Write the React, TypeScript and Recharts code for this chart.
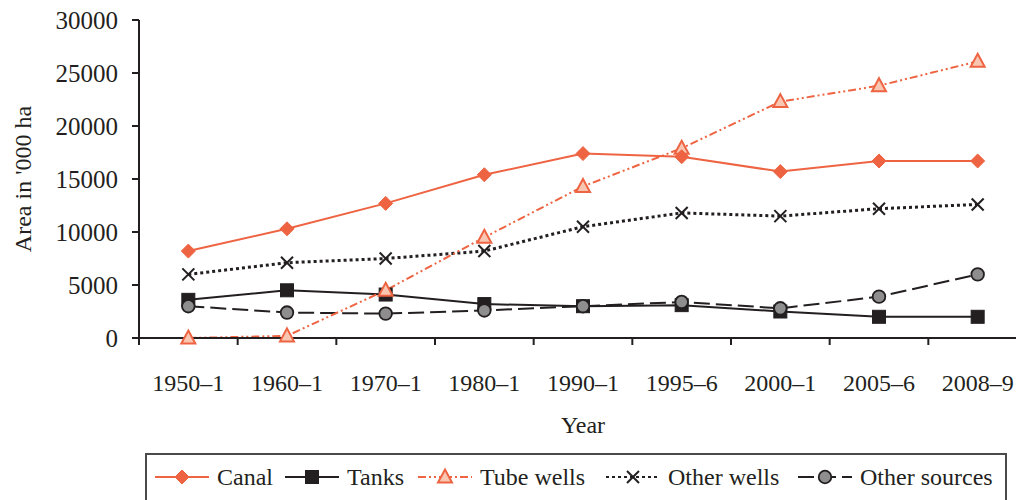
import React from 'react';
import { ComposedChart, Line, XAxis, YAxis, Legend } from 'recharts';

const categories = ['1950–1', '1960–1', '1970–1', '1980–1', '1990–1', '1995–6', '2000–1', '2005–6', '2008–9'];
const canal = [8200, 10300, 12700, 15400, 17400, 17100, 15700, 16700, 16700];
const tanks = [3600, 4500, 4100, 3200, 3000, 3100, 2500, 2000, 2000];
const tubeWells = [0, 200, 4500, 9500, 14300, 17900, 22300, 23800, 26100];
const otherWells = [6000, 7100, 7500, 8200, 10500, 11800, 11500, 12200, 12600];
const otherSources = [3000, 2400, 2300, 2600, 3000, 3400, 2800, 3900, 6000];
const yTicks = [0, 5000, 10000, 15000, 20000, 25000, 30000];

const data = categories.map((year, i) => ({
  year,
  canal: canal[i],
  tanks: tanks[i],
  tubeWells: tubeWells[i],
  otherWells: otherWells[i],
  otherSources: otherSources[i],
}));

const ORANGE = '#EE6442';
const PEACH = '#F9C6B2';
const INK = '#231F20';
const GREY = '#8E8E8E';
const FONT = "'Liberation Serif', 'Times New Roman', serif";
const X_TICK_MARGIN = 36;

type Shape = 'diamond' | 'square' | 'triangle' | 'cross' | 'circle';

const drawShape = (shape: Shape, cx: number, cy: number, key?: any) => {
  switch (shape) {
    case 'diamond':
      return <path key={key} d={`M${cx},${cy - 7}L${cx + 7},${cy}L${cx},${cy + 7}L${cx - 7},${cy}Z`} fill={ORANGE} stroke={ORANGE} strokeWidth={1} />;
    case 'square':
      return <rect key={key} x={cx - 6.5} y={cy - 6.5} width={13} height={13} fill={INK} stroke={INK} strokeWidth={1} />;
    case 'triangle':
      return <path key={key} d={`M${cx},${cy - 7.5}L${cx + 7},${cy + 5.5}L${cx - 7},${cy + 5.5}Z`} fill={PEACH} stroke={ORANGE} strokeWidth={2} />;
    case 'cross':
      return (
        <g key={key}>
          <line x1={cx - 6} y1={cy - 6} x2={cx + 6} y2={cy + 6} stroke={INK} strokeWidth={2} />
          <line x1={cx - 6} y1={cy + 6} x2={cx + 6} y2={cy - 6} stroke={INK} strokeWidth={2} />
        </g>
      );
    default:
      return <circle key={key} cx={cx} cy={cy} r={6.3} fill={GREY} stroke={INK} strokeWidth={1.8} />;
  }
};

const dotFor = (shape: Shape) => (props: any) => {
  const { cx, cy, index } = props;
  return drawShape(shape, cx, cy, `${shape}-${index}`);
};

const series = [
  { key: 'canal', name: 'Canal', color: ORANGE, width: 2, dash: undefined as string | undefined, shape: 'diamond' as Shape, itemWidth: 130 },
  { key: 'tanks', name: 'Tanks', color: INK, width: 2, dash: undefined as string | undefined, shape: 'square' as Shape, itemWidth: 133 },
  { key: 'tubeWells', name: 'Tube wells', color: ORANGE, width: 2, dash: '8 3 2 3 2 3', shape: 'triangle' as Shape, itemWidth: 188 },
  { key: 'otherWells', name: 'Other wells', color: INK, width: 3, dash: '3 3', shape: 'cross' as Shape, itemWidth: 192 },
  { key: 'otherSources', name: 'Other sources', color: INK, width: 2, dash: '16 6', shape: 'circle' as Shape, itemWidth: 200 },
];

const drawOrder = ['tanks', 'otherSources', 'otherWells', 'tubeWells', 'canal'];

const XTick = (props: any) => {
  const { x, y, payload } = props;
  const off = payload && typeof payload.offset === 'number' ? payload.offset : 0;
  const edge = x - off;
  const axisY = y - X_TICK_MARGIN;
  return (
    <g>
      <line x1={edge} x2={edge} y1={axisY} y2={axisY + 7} stroke={INK} strokeWidth={2} />
      <text x={x} y={y} dy="0.71em" textAnchor="middle" fill={INK} fontSize={24} fontFamily={FONT}>
        {payload.value}
      </text>
    </g>
  );
};

const LegendContent = () => (
  <div
    style={{
      boxSizing: 'border-box',
      height: 50,
      border: '2px solid #4a4a4a',
      display: 'flex',
      alignItems: 'center',
      paddingLeft: 8,
      paddingBottom: 2,
      fontFamily: FONT,
      fontSize: 24,
      color: INK,
    }}
  >
    {series.map((s) => (
      <div key={s.key} style={{ display: 'flex', alignItems: 'center', width: s.itemWidth, flex: 'none' }}>
        <svg width={54} height={22} style={{ marginRight: 8 }}>
          <line x1={0} x2={54} y1={11} y2={11} stroke={s.color} strokeWidth={2} strokeDasharray={s.dash} />
          {drawShape(s.shape, 27, 11)}
        </svg>
        <span style={{ whiteSpace: 'nowrap' }}>{s.name}</span>
      </div>
    ))}
  </div>
);

export default function App() {
  return (
    <div style={{ position: 'fixed', left: 0, top: 0, width: 1016, height: 500, overflow: 'hidden', background: '#fff' }}>
      <ComposedChart width={1040} height={510} data={data} margin={{ top: 20, right: 13, left: 0, bottom: 0 }}>
        <XAxis
          dataKey="year"
          type="category"
          scale="band"
          height={122}
          tickSize={0}
          tickMargin={X_TICK_MARGIN}
          tickLine={false}
          axisLine={{ stroke: INK, strokeWidth: 2 }}
          tick={<XTick />}
          interval={0}
          label={{ value: 'Year', position: 'insideBottom', offset: 27, fill: INK, fontSize: 24, fontFamily: FONT }}
        />
        <YAxis
          width={139}
          domain={[0, 30000]}
          ticks={yTicks}
          tickSize={7}
          tickMargin={14}
          interval={0}
          axisLine={{ stroke: INK, strokeWidth: 2 }}
          tickLine={{ stroke: INK, strokeWidth: 2 }}
          tick={{ fill: INK, fontSize: 25, fontFamily: FONT }}
          label={{ value: "Area in '000 ha", angle: -90, position: 'center', dx: -47, fill: INK, fontSize: 24, fontFamily: FONT }}
        />
        <Legend
          verticalAlign="bottom"
          content={<LegendContent />}
          wrapperStyle={{ left: 145, top: 453, width: 862, height: 50 }}
        />
        {drawOrder.map((k) => {
          const s = series.find((q) => q.key === k)!;
          return (
            <Line
              key={s.key}
              type="linear"
              dataKey={s.key}
              name={s.name}
              stroke={s.color}
              strokeWidth={s.width}
              strokeDasharray={s.dash}
              dot={dotFor(s.shape)}
              activeDot={false}
              isAnimationActive={false}
            />
          );
        })}
      </ComposedChart>
    </div>
  );
}
